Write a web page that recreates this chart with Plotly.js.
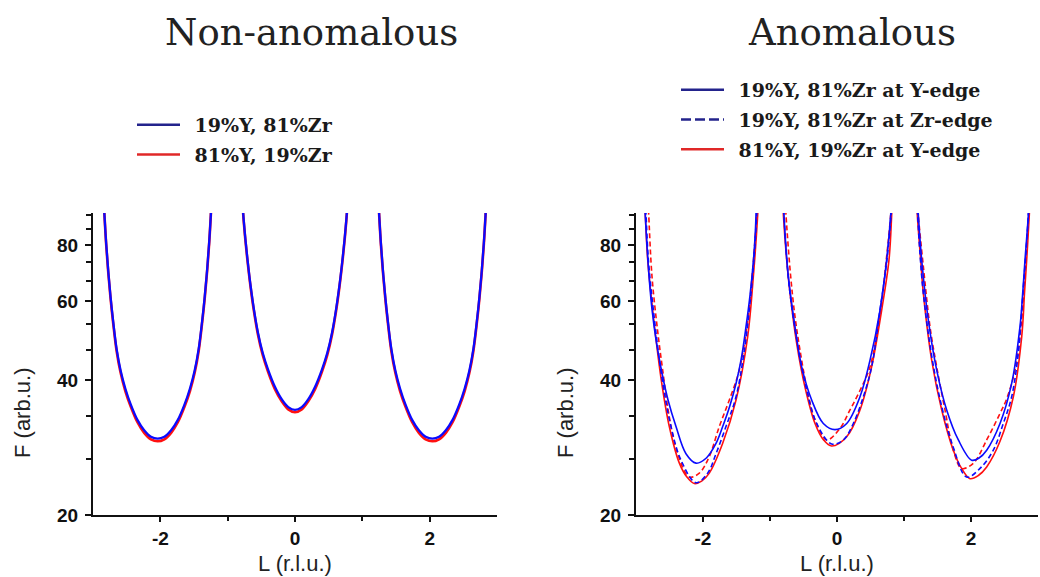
<!DOCTYPE html>
<html>
<head>
<meta charset="utf-8">
<script src="https://cdn.plot.ly/plotly-3.0.1.min.js"></script>
<style>html,body{margin:0;padding:0;background:#fff;}#chart{width:1040px;height:577px;}</style>
</head>
<body>
<div id="chart"></div>
<script>
// ---------- Data ----------
// Non-anomalous panel (both series share the L grid)
const naL = [-2.84,-2.83,-2.805,-2.775,-2.74,-2.70,-2.65,-2.59,-2.52,-2.44,-2.34,-2.24,-2.14,-2.04,-1.94,-1.84,-1.74,-1.64,-1.56,-1.49,-1.43,-1.38,-1.34,-1.305,-1.275,-1.25,-1.24,null,
  -0.785,-0.774,-0.762,-0.735,-0.70,-0.66,-0.61,-0.55,-0.48,-0.40,-0.30,-0.20,-0.10,0,0.10,0.20,0.30,0.40,0.48,0.55,0.61,0.66,0.70,0.735,0.762,0.774,0.785,null,
  1.24,1.25,1.275,1.305,1.34,1.38,1.43,1.49,1.56,1.64,1.74,1.84,1.94,2.04,2.14,2.24,2.34,2.44,2.52,2.59,2.65,2.70,2.74,2.775,2.805,2.83,2.84];
const naBlueF = [100,93.3,81.0,70.5,61.5,54.0,47.0,42.0,38.3,35.3,32.6,30.9,29.9,29.6,29.9,30.9,32.6,35.3,38.3,42.0,47.0,54.0,61.5,70.5,81.0,93.3,100,null,
  101,96,91,82,73,65,57.5,51.0,46.0,42.2,38.7,36.3,34.8,34.3,34.8,36.3,38.7,42.2,46.0,51.0,57.5,65,73,82,91,96,101,null,
  100,93.3,81.0,70.5,61.5,54.0,47.0,42.0,38.3,35.3,32.6,30.9,29.9,29.6,29.9,30.9,32.6,35.3,38.3,42.0,47.0,54.0,61.5,70.5,81.0,93.3,100];
const naRedF = [100,93.3,80.5,70.0,61.0,53.5,46.5,41.5,37.8,34.9,32.2,30.5,29.5,29.2,29.5,30.5,32.2,34.9,37.8,41.5,46.5,53.5,61.0,70.0,80.5,93.3,100,null,
  101,96,90.5,81.5,72.5,64.5,57.0,50.5,45.5,41.7,38.2,35.9,34.4,33.9,34.4,35.9,38.2,41.7,45.5,50.5,57.0,64.5,72.5,81.5,90.5,96,101,null,
  100,93.3,80.5,70.0,61.0,53.5,46.5,41.5,37.8,34.9,32.2,30.5,29.5,29.2,29.5,30.5,32.2,34.9,37.8,41.5,46.5,53.5,61.0,70.0,80.5,93.3,100];

// Anomalous panel: 19%Y,81%Zr at Y-edge (blue solid)
const anBsL = [-2.87,-2.862,-2.838,-2.805,-2.76,-2.70,-2.62,-2.52,-2.403,-2.254,-2.104,-1.95,-1.81,-1.706,-1.60,-1.507,-1.43,-1.358,-1.30,-1.25,-1.22,-1.209,-1.202,null,
  -0.80,-0.791,-0.765,-0.726,-0.627,-0.527,-0.378,-0.204,-0.03,0.145,0.343,0.493,0.642,0.741,0.801,0.81,null,
  1.205,1.214,1.264,1.363,1.488,1.637,1.811,2.01,2.12,2.234,2.433,2.607,2.731,2.77,2.806,2.856,2.865];
const anBsF = [100,93.3,80.7,68,57.3,49,42,36,31.5,27.4,26.1,26.8,28.8,31.5,35,39.3,44.5,52.6,61.5,73,85,93.3,100,null,
  100,93.3,80,68,52.6,42.8,36.1,32.0,31.0,32.0,36.7,44.3,57.3,74.1,93.3,100,null,
  100,93.3,74.1,54.4,42.1,34.3,29.4,26.5,26.8,27.9,32.0,39.3,52.6,62,74.1,93.3,100];
// 19%Y,81%Zr at Zr-edge (blue dashed)
const anBdL = [-2.86,-2.85,-2.815,-2.741,-2.612,-2.478,-2.328,-2.104,-1.93,-1.806,-1.657,-1.507,-1.383,-1.284,-1.235,-1.199,-1.19,null,
  -0.80,-0.791,-0.748,-0.701,-0.592,-0.463,-0.303,-0.08,0.095,0.244,0.393,0.517,0.642,0.745,0.806,0.815,null,
  1.195,1.204,1.24,1.289,1.413,1.563,1.736,1.936,2.134,2.333,2.482,2.607,2.706,2.745,2.78,2.82,2.856,2.865];
const anBdF = [100,93.3,74.1,57.3,40.4,31.5,26.5,23.6,24.8,27.4,31.5,36.7,46.6,62.4,76,93.3,100,null,
  100,93.3,74.1,62.4,48.3,38.6,32.0,28.8,29.4,32.0,36.7,42.8,57.3,74.1,93.3,100,null,
  100,93.3,76,62.4,45.3,34.9,28.3,24.3,25.4,27.9,32.0,36.7,45.9,54,64,77,93.3,100];
// 81%Y,19%Zr at Y-edge (red solid)
const anRsL = [-2.87,-2.861,-2.825,-2.751,-2.627,-2.503,-2.353,-2.24,-2.13,-2.02,-1.906,-1.706,-1.507,-1.333,-1.249,-1.184,-1.175,null,
  -0.81,-0.80,-0.751,-0.701,-0.602,-0.478,-0.328,-0.2,-0.08,0.145,0.343,0.517,0.667,0.776,0.816,0.825,null,
  1.19,1.199,1.249,1.289,1.413,1.563,1.736,1.86,1.985,2.11,2.234,2.433,2.632,2.757,2.80,2.831,2.870,2.878];
const anRsF = [100,93.3,74.1,57.3,40.4,31.5,26.1,24.3,23.5,23.8,24.8,28.9,36.1,50.0,68,93.3,100,null,
  100,93.3,74.1,62.4,48.3,38.6,32.0,29.4,28.5,29.9,34.3,42.8,57.3,74.1,93.3,100,null,
  100,93.3,74.1,62.4,44.3,34.3,27.9,25.4,24.1,24.5,25.6,29.2,36.7,50.0,63,74.1,93.3,100];
// 81%Y,19%Zr at Zr-edge (red dashed, not listed in the legend)
const anRdL = [-2.82,-2.81,-2.761,-2.676,-2.602,-2.503,-2.378,-2.204,-2.055,-1.906,-1.757,-1.607,-1.458,-1.333,-1.26,-1.199,-1.19,null,
  -0.77,-0.761,-0.691,-0.627,-0.552,-0.453,-0.328,-0.154,0.045,0.194,0.343,0.493,0.642,0.735,0.801,0.81,null,
  1.205,1.214,1.289,1.388,1.488,1.612,1.736,1.861,2.036,2.234,2.433,2.532,2.657,2.746,2.81,2.86,2.87];
const anRdF = [100,93.3,68,51.3,42.1,33.1,27.4,24.3,24.8,27.0,31.5,36.1,42.1,54.4,70,93.3,100,null,
  100,93.3,68,55.4,46.6,38.6,32.6,29.4,31.2,34.3,37.9,42.8,56.3,74.0,93.3,100,null,
  100,93.3,71.6,52.6,42.8,34.3,27.9,25.4,26.1,29.4,33.7,36.3,42.1,52.6,72.0,93.3,100];

// Axis ticks
const xTickVals = [-2, 0, 2];
const xTickText = ['-2', '0', '2'];
const xMinorVals = [-1, 1];
const yTickVals = [20, 40, 60, 80];
const yMinorVals = [26.67, 33.33, 46.67, 53.33, 66.67, 73.33, 86.67, 93.33];

const naNames = ['19%Y, 81%Zr', '81%Y, 19%Zr'];
const anNames = ['19%Y, 81%Zr at Y-edge', '19%Y, 81%Zr at Zr-edge', '81%Y, 19%Zr at Y-edge'];
const panelTitles = ['Non-anomalous', 'Anomalous'];
const xTitle = 'L (r.l.u.)';
const yTitle = 'F (arb.u.)';

// ---------- Styling ----------
const W = 1040, H = 577;
const BLUE = '#0a0aff', RED = '#ff1010';
const LEG_BLUE = '#23238c', LEG_RED = '#e02828';
const px = v => v / W, py = v => 1 - v / H;
const GAP = '&#8194;';
const DASH = '5px,3px';

const line = (c, w, d) => ({color: c, width: w, dash: d || 'solid', shape: 'spline', smoothing: 1});
const base = {mode: 'lines', showlegend: false, connectgaps: false, hoverinfo: 'skip'};

const traces = [
  Object.assign({x: naL, y: naRedF, xaxis: 'x', yaxis: 'y', line: line(RED, 2.6)}, base),
  Object.assign({x: naL, y: naBlueF, xaxis: 'x', yaxis: 'y', line: line(BLUE, 2.3)}, base),
  Object.assign({x: anRsL, y: anRsF, xaxis: 'x2', yaxis: 'y2', line: line(RED, 1.6)}, base),
  Object.assign({x: anRdL, y: anRdF, xaxis: 'x2', yaxis: 'y2', line: line(RED, 1.6, DASH)}, base),
  Object.assign({x: anBdL, y: anBdF, xaxis: 'x2', yaxis: 'y2', line: line(BLUE, 1.6, DASH)}, base),
  Object.assign({x: anBsL, y: anBsF, xaxis: 'x2', yaxis: 'y2', line: line(BLUE, 1.6)}, base),
  // legend entries
  {x: [null], y: [null], xaxis: 'x', yaxis: 'y', mode: 'lines', name: GAP + naNames[0], line: {color: LEG_BLUE, width: 2.5}, legend: 'legend', legendgroup: 'a1'},
  {x: [null], y: [null], xaxis: 'x', yaxis: 'y', mode: 'lines', name: GAP + naNames[1], line: {color: LEG_RED, width: 2.5}, legend: 'legend', legendgroup: 'a2'},
  {x: [null], y: [null], xaxis: 'x2', yaxis: 'y2', mode: 'lines', name: GAP + anNames[0], line: {color: LEG_BLUE, width: 2.5}, legend: 'legend2', legendgroup: 'b1'},
  {x: [null], y: [null], xaxis: 'x2', yaxis: 'y2', mode: 'lines', name: GAP + anNames[1], line: {color: LEG_BLUE, width: 2.5, dash: '10px,4px'}, legend: 'legend2', legendgroup: 'b2'},
  {x: [null], y: [null], xaxis: 'x2', yaxis: 'y2', mode: 'lines', name: GAP + anNames[2], line: {color: LEG_RED, width: 2.5}, legend: 'legend2', legendgroup: 'b3'}
];

const tickFont = {family: 'Liberation Sans, Arial, sans-serif', size: 19, color: '#111', weight: 'bold'};
const titleFont = {family: 'Liberation Sans, Arial, sans-serif', size: 22, color: '#222'};

function xAxis(dom, anchor) {
  return {domain: dom, anchor: anchor, range: [-3, 3], showline: true, linecolor: '#111', linewidth: 2, mirror: false,
    showgrid: false, zeroline: false, ticks: 'outside', ticklen: 5, tickwidth: 2, tickcolor: '#111',
    tickmode: 'array', tickvals: xTickVals, ticktext: xTickText, tickfont: tickFont, ticklabelstandoff: 0,
    minor: {tickmode: 'array', tickvals: xMinorVals, ticks: 'outside', ticklen: 4, tickwidth: 2, tickcolor: '#111'},
    title: {text: xTitle, font: titleFont, standoff: 8}, automargin: false, fixedrange: true};
}
function yAxis(anchor) {
  return {domain: [1 - 515 / H, 1 - 213 / H], type: 'log', range: [Math.log10(20), Math.log10(94.3)], anchor: anchor,
    showline: true, linecolor: '#111', linewidth: 2, mirror: false, showgrid: false, zeroline: false,
    ticks: 'outside', ticklen: 6, tickwidth: 2, tickcolor: '#111', tickmode: 'array', tickvals: yTickVals,
    tickfont: tickFont, ticklabelstandoff: 3,
    minor: {tickmode: 'array', tickvals: yMinorVals, ticks: 'outside', ticklen: 5, tickwidth: 2, tickcolor: '#111'},
    automargin: false, fixedrange: true};
}

const legFont = {family: 'DejaVu Serif, serif', size: 19, color: '#1a1a1a', weight: 'bold'};
const titleAnn = (t, x) => ({text: t, xref: 'paper', yref: 'paper', x: px(x), y: py(33), xanchor: 'center', yanchor: 'middle',
  showarrow: false, font: {family: 'DejaVu Serif, serif', size: 37, color: '#222'}});
const yTitleAnn = x => ({text: yTitle, xref: 'paper', yref: 'paper', x: px(x), y: py(413), xanchor: 'center', yanchor: 'middle',
  textangle: -90, showarrow: false, font: titleFont});

const layout = {
  width: W, height: H, margin: {l: 0, r: 0, t: 0, b: 0},
  paper_bgcolor: '#fff', plot_bgcolor: '#fff', showlegend: true,
  xaxis: xAxis([93 / W, 497 / W], 'y'),
  yaxis: yAxis('x'),
  xaxis2: xAxis([636 / W, 1038 / W], 'y2'),
  yaxis2: yAxis('x2'),
  legend: {x: px(132), y: py(106), xanchor: 'left', yanchor: 'top', bgcolor: 'rgba(0,0,0,0)', borderwidth: 0,
    font: legFont, itemwidth: 43, tracegroupgap: 2},
  legend2: {x: px(676), y: py(71), xanchor: 'left', yanchor: 'top', bgcolor: 'rgba(0,0,0,0)', borderwidth: 0,
    font: legFont, itemwidth: 43, tracegroupgap: 2},
  annotations: [titleAnn(panelTitles[0], 311), titleAnn(panelTitles[1], 852), yTitleAnn(22), yTitleAnn(565)]
};

Plotly.newPlot('chart', traces, layout, {staticPlot: true, displayModeBar: false});
</script>
</body>
</html>
